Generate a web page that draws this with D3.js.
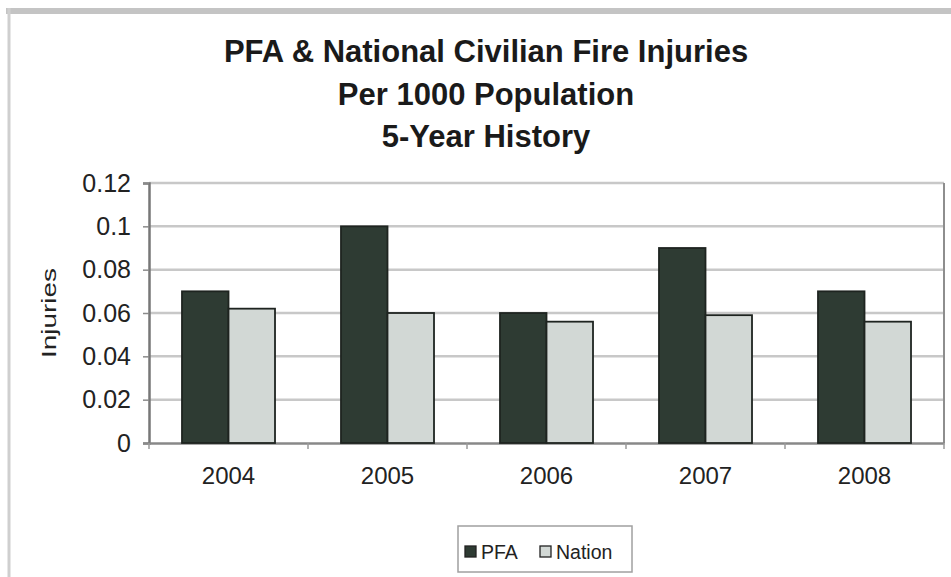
<!DOCTYPE html>
<html>
<head>
<meta charset="utf-8">
<script src="https://cdn.jsdelivr.net/npm/d3@7"></script>
<style>
  html, body { margin: 0; padding: 0; background: #fff; }
  svg { display: block; }
</style>
</head>
<body>
<svg id="chart" width="951" height="577"></svg>
<script>
// Civilian fire injuries per 1000 population, PFA vs. national rate
const years = ["2004", "2005", "2006", "2007", "2008"];
const seriesNames = ["PFA", "Nation"];
const pfaValues = [0.07, 0.1, 0.06, 0.09, 0.07];
const nationValues = [0.062, 0.06, 0.056, 0.059, 0.056];
const yTicks = [0, 0.02, 0.04, 0.06, 0.08, 0.1, 0.12];
const titleLines = ["PFA & National Civilian Fire Injuries", "Per 1000 Population", "5-Year History"];

const colors = { PFA: "#2e3b33", Nation: "#d2d8d5" };
const font = "'Liberation Sans', Arial, Helvetica, sans-serif";

const svg = d3.select("#chart");
const plot = { left: 149, right: 944, top: 183, bottom: 443 };

// outer chart frame: top and left edges
svg.append("line")
  .attr("x1", 6).attr("x2", 951)
  .attr("y1", 11).attr("y2", 11)
  .attr("stroke", "#c4c4c4").attr("stroke-width", 6);
svg.append("line")
  .attr("x1", 9).attr("x2", 9)
  .attr("y1", 8).attr("y2", 577)
  .attr("stroke", "#cfcfcf").attr("stroke-width", 3);

// title
svg.append("g").selectAll("text")
  .data(titleLines)
  .join("text")
  .attr("x", 486)
  .attr("y", (d, i) => 62 + i * 42.5)
  .attr("text-anchor", "middle")
  .attr("font-family", font)
  .attr("font-weight", "bold")
  .attr("font-size", 31)
  .attr("fill", "#1a1a1a")
  .text(d => d);

const x0 = d3.scaleBand()
  .domain(years)
  .range([plot.left, plot.right])
  .paddingInner(0.415)
  .paddingOuter(0.2075);

const x1 = d3.scaleBand()
  .domain(seriesNames)
  .range([0, x0.bandwidth()]);

const y = d3.scaleLinear()
  .domain([0, 0.12])
  .range([plot.bottom, plot.top]);

// gridlines
svg.append("g").selectAll("line")
  .data(yTicks.filter(t => t > 0))
  .join("line")
  .attr("x1", plot.left).attr("x2", plot.right)
  .attr("y1", d => y(d)).attr("y2", d => y(d))
  .attr("stroke", "#c8c8c8")
  .attr("stroke-width", 2.5);

// right plot border
svg.append("line")
  .attr("x1", plot.right).attr("x2", plot.right)
  .attr("y1", plot.top).attr("y2", plot.bottom)
  .attr("stroke", "#8e8e8e").attr("stroke-width", 2);

// y axis
const yAxis = d3.axisLeft(y)
  .tickValues(yTicks)
  .tickFormat(d => d === 0 ? "0" : String(+d.toFixed(2)))
  .tickSize(6)
  .tickPadding(12);

const gy = svg.append("g")
  .attr("transform", `translate(${plot.left},0)`)
  .call(yAxis);
gy.select(".domain").attr("stroke", "#777").attr("stroke-width", 2.5);
gy.selectAll(".tick line").attr("stroke", "#8a8a8a").attr("stroke-width", 1.5);
gy.selectAll(".tick text")
  .attr("font-family", font)
  .attr("font-size", 25)
  .attr("fill", "#222");

// x axis
const xAxis = d3.axisBottom(x0).tickSize(0).tickPadding(24);
const gx = svg.append("g")
  .attr("transform", `translate(0,${plot.bottom})`)
  .call(xAxis);
gx.select(".domain").attr("stroke", "#888").attr("stroke-width", 2.5);
gx.selectAll(".tick text")
  .attr("font-family", font)
  .attr("font-size", 24)
  .attr("fill", "#222");

// tick marks between categories
const step = x0.step();
svg.append("g").selectAll("line")
  .data(d3.range(years.length + 1))
  .join("line")
  .attr("x1", i => plot.left + i * step)
  .attr("x2", i => plot.left + i * step)
  .attr("y1", plot.bottom).attr("y2", plot.bottom + 6)
  .attr("stroke", "#9a9a9a").attr("stroke-width", 1.5);

// bars
const rows = years.map((yr, i) => ({ year: yr, PFA: pfaValues[i], Nation: nationValues[i] }));
svg.append("g").selectAll("g")
  .data(rows)
  .join("g")
  .attr("transform", d => `translate(${x0(d.year)},0)`)
  .selectAll("rect")
  .data(d => seriesNames.map(k => ({ key: k, value: d[k] })))
  .join("rect")
  .attr("x", d => x1(d.key))
  .attr("y", d => y(d.value))
  .attr("width", x1.bandwidth())
  .attr("height", d => plot.bottom - y(d.value))
  .attr("fill", d => colors[d.key])
  .attr("stroke", "#1e2420")
  .attr("stroke-width", 1.8);

// y axis title
svg.append("text")
  .attr("transform", "translate(56,313) rotate(-90)")
  .attr("text-anchor", "middle")
  .attr("font-family", font)
  .attr("font-size", 21)
  .attr("textLength", 90)
  .attr("lengthAdjust", "spacingAndGlyphs")
  .attr("fill", "#222")
  .text("Injuries");

// legend
const legend = svg.append("g").attr("transform", "translate(458,526)");
legend.append("rect")
  .attr("width", 174).attr("height", 46)
  .attr("fill", "#fff")
  .attr("stroke", "#a0a0a0").attr("stroke-width", 1.5);
const items = legend.selectAll("g.item")
  .data(seriesNames)
  .join("g")
  .attr("class", "item")
  .attr("transform", (d, i) => `translate(${i === 0 ? 7 : 82},0)`);
items.append("rect")
  .attr("x", 0).attr("y", 20)
  .attr("width", 11).attr("height", 11)
  .attr("fill", d => colors[d])
  .attr("stroke", "#222").attr("stroke-width", 1.3);
items.append("text")
  .attr("x", 16).attr("y", 33)
  .attr("font-family", font)
  .attr("font-size", 19.5)
  .attr("fill", "#222")
  .text(d => d);
</script>
</body>
</html>
